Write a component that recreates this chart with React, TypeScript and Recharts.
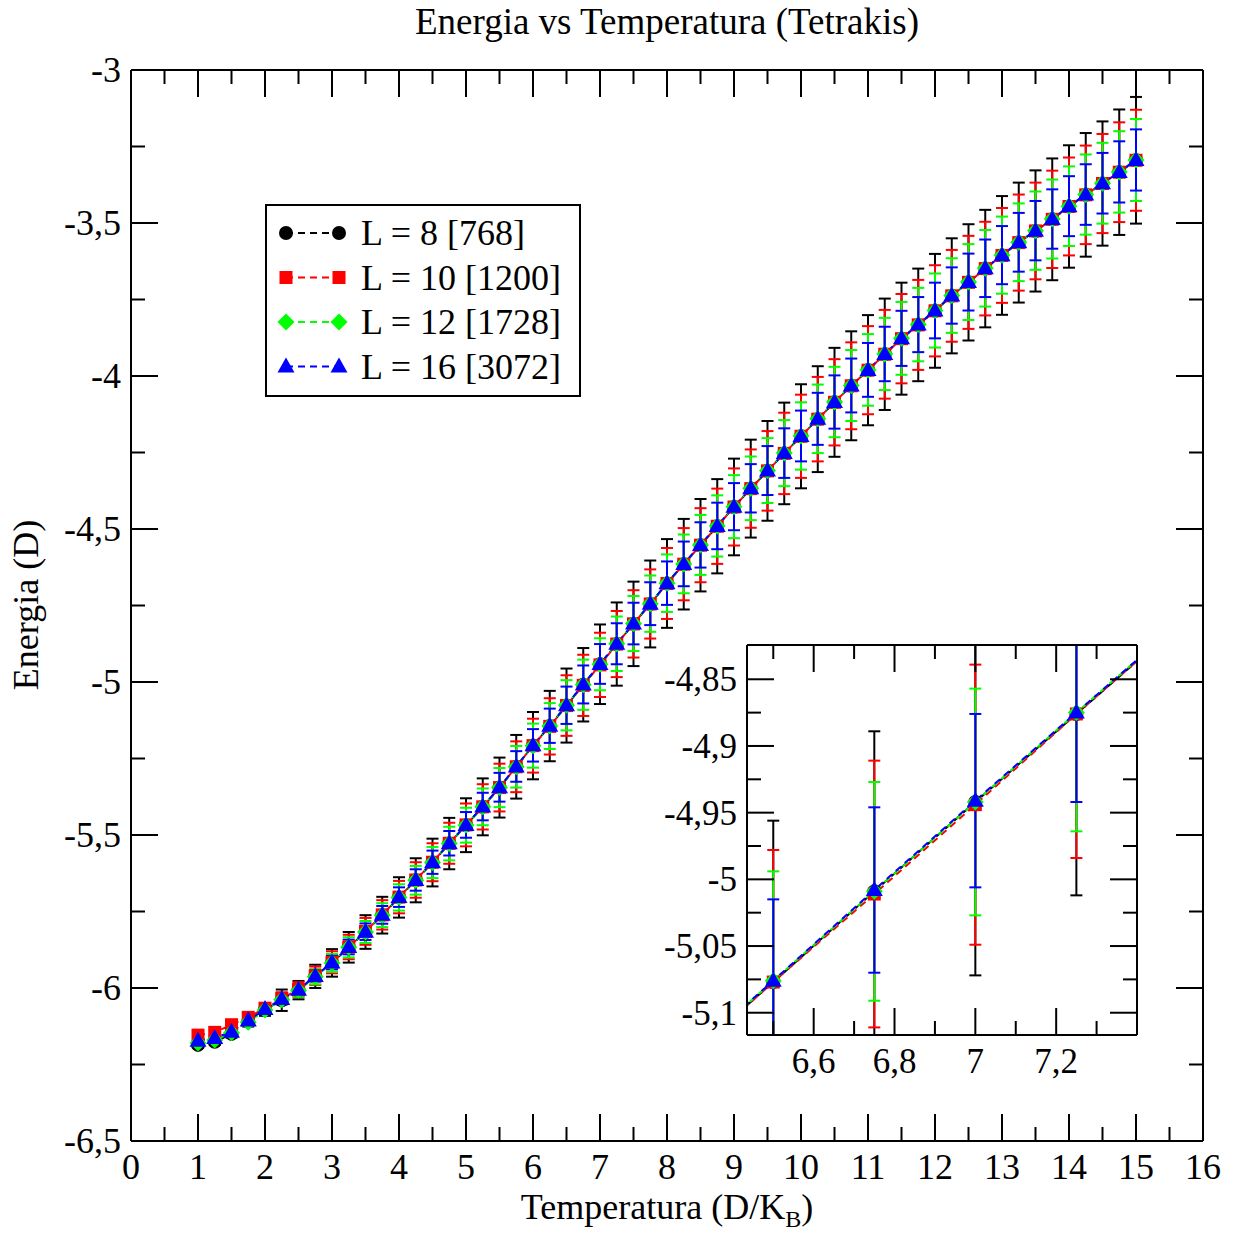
import React from 'react';
import { LineChart, Line, XAxis, YAxis, ErrorBar, Legend, CartesianGrid } from 'recharts';

// temperatures (D/K_B)
const temps = [
  1, 1.25, 1.5, 1.75, 2, 2.25, 2.5, 2.75,
  3, 3.25, 3.5, 3.75, 4, 4.25, 4.5, 4.75,
  5, 5.25, 5.5, 5.75, 6, 6.25, 6.5, 6.75,
  7, 7.25, 7.5, 7.75, 8, 8.25, 8.5, 8.75,
  9, 9.25, 9.5, 9.75, 10, 10.25, 10.5, 10.75,
  11, 11.25, 11.5, 11.75, 12, 12.25, 12.5, 12.75,
  13, 13.25, 13.5, 13.75, 14, 14.25, 14.5, 14.75,
  15,
];

// energy per series
const energyL8 = [
  -6.186, -6.176, -6.150, -6.110, -6.071, -6.040, -6.007, -5.962,
  -5.918, -5.867, -5.817, -5.762, -5.704, -5.648, -5.590, -5.528,
  -5.468, -5.408, -5.345, -5.277, -5.208, -5.144, -5.077, -5.009,
  -4.942, -4.876, -4.810, -4.745, -4.678, -4.615, -4.553, -4.491,
  -4.428, -4.368, -4.310, -4.253, -4.197, -4.141, -4.086, -4.032,
  -3.981, -3.929, -3.878, -3.833, -3.787, -3.738, -3.694, -3.649,
  -3.606, -3.564, -3.526, -3.488, -3.446, -3.408, -3.371, -3.334,
  -3.295,
];
const energyL10 = [
  -6.154, -6.145, -6.120, -6.096, -6.066, -6.034, -6.005, -5.960,
  -5.916, -5.866, -5.815, -5.761, -5.703, -5.647, -5.589, -5.527,
  -5.467, -5.408, -5.345, -5.277, -5.208, -5.145, -5.077, -5.011,
  -4.944, -4.876, -4.810, -4.745, -4.678, -4.615, -4.553, -4.491,
  -4.428, -4.368, -4.310, -4.253, -4.197, -4.141, -4.086, -4.032,
  -3.981, -3.929, -3.878, -3.833, -3.787, -3.738, -3.694, -3.649,
  -3.606, -3.564, -3.526, -3.488, -3.446, -3.408, -3.371, -3.334,
  -3.295,
];
const energyL12 = [
  -6.180, -6.170, -6.146, -6.112, -6.072, -6.038, -6.008, -5.963,
  -5.918, -5.867, -5.817, -5.762, -5.704, -5.648, -5.590, -5.528,
  -5.468, -5.408, -5.345, -5.277, -5.208, -5.144, -5.076, -5.009,
  -4.942, -4.875, -4.809, -4.744, -4.677, -4.614, -4.552, -4.490,
  -4.427, -4.367, -4.309, -4.252, -4.196, -4.140, -4.085, -4.031,
  -3.980, -3.928, -3.877, -3.832, -3.786, -3.737, -3.693, -3.648,
  -3.605, -3.563, -3.525, -3.487, -3.445, -3.407, -3.370, -3.333,
  -3.294,
];
const energyL16 = [
  -6.172, -6.163, -6.143, -6.106, -6.069, -6.036, -6.006, -5.961,
  -5.917, -5.866, -5.816, -5.761, -5.703, -5.647, -5.589, -5.527,
  -5.467, -5.407, -5.344, -5.276, -5.207, -5.143, -5.076, -5.008,
  -4.941, -4.875, -4.809, -4.744, -4.677, -4.614, -4.552, -4.490,
  -4.427, -4.367, -4.309, -4.252, -4.196, -4.140, -4.085, -4.031,
  -3.980, -3.928, -3.877, -3.832, -3.786, -3.737, -3.693, -3.648,
  -3.605, -3.563, -3.525, -3.487, -3.445, -3.407, -3.370, -3.333,
  -3.294,
];

// error bars (symmetric)
const errL8 = [
  0.008, 0.010, 0.012, 0.016, 0.020, 0.035, 0.030, 0.038,
  0.045, 0.050, 0.055, 0.060, 0.066, 0.072, 0.078, 0.084,
  0.088, 0.093, 0.098, 0.104, 0.110, 0.115, 0.121, 0.120,
  0.130, 0.136, 0.138, 0.142, 0.145, 0.148, 0.151, 0.154,
  0.158, 0.160, 0.163, 0.166, 0.170, 0.173, 0.178, 0.178,
  0.180, 0.182, 0.183, 0.184, 0.186, 0.188, 0.190, 0.192,
  0.194, 0.196, 0.198, 0.199, 0.200, 0.202, 0.203, 0.205,
  0.207,
];
const errL10 = [
  0.007, 0.008, 0.010, 0.013, 0.016, 0.020, 0.024, 0.030,
  0.036, 0.040, 0.044, 0.048, 0.053, 0.058, 0.062, 0.067,
  0.070, 0.074, 0.078, 0.083, 0.088, 0.092, 0.099, 0.100,
  0.105, 0.108, 0.110, 0.113, 0.116, 0.118, 0.121, 0.123,
  0.126, 0.128, 0.130, 0.133, 0.136, 0.138, 0.141, 0.142,
  0.144, 0.145, 0.146, 0.147, 0.149, 0.150, 0.152, 0.153,
  0.155, 0.157, 0.158, 0.159, 0.160, 0.161, 0.162, 0.163,
  0.165,
];
const errL12 = [
  0.006, 0.007, 0.008, 0.010, 0.013, 0.016, 0.020, 0.025,
  0.029, 0.033, 0.036, 0.039, 0.043, 0.047, 0.051, 0.055,
  0.057, 0.060, 0.064, 0.068, 0.072, 0.075, 0.082, 0.082,
  0.085, 0.089, 0.090, 0.092, 0.094, 0.096, 0.098, 0.100,
  0.103, 0.104, 0.106, 0.108, 0.110, 0.112, 0.115, 0.116,
  0.117, 0.118, 0.119, 0.120, 0.121, 0.122, 0.124, 0.125,
  0.126, 0.127, 0.128, 0.129, 0.130, 0.131, 0.132, 0.133,
  0.134,
];
const errL16 = [
  0.004, 0.005, 0.006, 0.008, 0.010, 0.012, 0.015, 0.018,
  0.022, 0.024, 0.027, 0.029, 0.032, 0.035, 0.038, 0.040,
  0.042, 0.045, 0.047, 0.050, 0.053, 0.056, 0.061, 0.062,
  0.065, 0.067, 0.068, 0.070, 0.071, 0.073, 0.074, 0.076,
  0.077, 0.079, 0.080, 0.081, 0.083, 0.085, 0.087, 0.088,
  0.088, 0.089, 0.090, 0.090, 0.091, 0.092, 0.093, 0.094,
  0.095, 0.096, 0.097, 0.097, 0.098, 0.099, 0.099, 0.100,
  0.100,
];

// ticks
const mainXTicks = [0, 0.5, 1, 1.5, 2, 2.5, 3, 3.5, 4, 4.5, 5, 5.5, 6, 6.5, 7, 7.5, 8, 8.5, 9, 9.5, 10, 10.5, 11, 11.5, 12, 12.5, 13, 13.5, 14, 14.5, 15, 15.5, 16];
const mainXLabels = [0, 1, 2, 3, 4, 5, 6, 7, 8, 9, 10, 11, 12, 13, 14, 15, 16];
const mainYTicks = [-6.5, -6.25, -6, -5.75, -5.5, -5.25, -5, -4.75, -4.5, -4.25, -4, -3.75, -3.5, -3.25, -3];
const mainYLabels = [-6.5, -6, -5.5, -5, -4.5, -4, -3.5, -3];
const insetXTicks = [6.5, 6.6, 6.7, 6.8, 6.9, 7, 7.1, 7.2, 7.3];
const insetXLabels = [6.6, 6.8, 7, 7.2];
const insetYTicks = [-5.1, -5.075, -5.05, -5.025, -5, -4.975, -4.95, -4.925, -4.9, -4.875, -4.85];
const insetYLabels = [-5.1, -5.05, -5, -4.95, -4.9, -4.85];

const series = [
  { key: 'L8', name: 'L = 8 [768]', color: '#000000', shape: 'circle', energy: energyL8, err: errL8 },
  { key: 'L10', name: 'L = 10 [1200]', color: '#ff0000', shape: 'square', energy: energyL10, err: errL10 },
  { key: 'L12', name: 'L = 12 [1728]', color: '#00ff00', shape: 'diamond', energy: energyL12, err: errL12 },
  { key: 'L16', name: 'L = 16 [3072]', color: '#0000ff', shape: 'triangle', energy: energyL16, err: errL16 },
];

const rows = temps.map((t, i) => {
  const row: Record<string, number> = { t };
  series.forEach((s) => {
    row[s.key] = s.energy[i];
    row[`${s.key}err`] = s.err[i];
  });
  return row;
});

const FONT = '"Liberation Serif", "Times New Roman", serif';

function Marker({ shape, cx, cy, color }: { shape: string; cx: number; cy: number; color: string }) {
  if (cx == null || cy == null) return null;
  if (shape === 'circle') return <circle cx={cx} cy={cy} r={7} fill={color} />;
  if (shape === 'square') return <rect x={cx - 6.5} y={cy - 6.5} width={13} height={13} fill={color} />;
  if (shape === 'diamond')
    return <polygon points={`${cx},${cy - 8.5} ${cx + 8.5},${cy} ${cx},${cy + 8.5} ${cx - 8.5},${cy}`} fill={color} />;
  return <polygon points={`${cx},${cy - 9} ${cx + 8.5},${cy + 6} ${cx - 8.5},${cy + 6}`} fill={color} />;
}

const fmt = (v: number) => String(Math.round(v * 1000) / 1000).replace('.', ',');
const has = (arr: number[], v: number) => arr.some((a) => Math.abs(a - v) < 1e-6);

// inward ticks, label only on the labelled ones
function makeTick(side: 'bottom' | 'top' | 'left' | 'right', labels: number[], showText: boolean, fontSize: number) {
  return (props: any) => {
    const { x, y, payload } = props;
    const v = payload.value as number;
    const major = has(labels, v);
    const len = major ? 27 : 14;
    let line;
    if (side === 'bottom') line = <line x1={x} x2={x} y1={y} y2={y - len} />;
    else if (side === 'top') line = <line x1={x} x2={x} y1={y} y2={y + len} />;
    else if (side === 'left') line = <line x1={x} x2={x + len} y1={y} y2={y} />;
    else line = <line x1={x} x2={x - len} y1={y} y2={y} />;
    return (
      <g>
        <g stroke="#000" strokeWidth={2}>{line}</g>
        {showText && major && side === 'bottom' && (
          <text x={x} y={y + 38} textAnchor="middle" fontFamily={FONT} fontSize={fontSize} fill="#000">
            {fmt(v)}
          </text>
        )}
        {showText && major && side === 'left' && (
          <text x={x - 10} y={y + 12} textAnchor="end" fontFamily={FONT} fontSize={fontSize} fill="#000">
            {fmt(v)}
          </text>
        )}
      </g>
    );
  };
}

function LegendBox() {
  return (
    <svg width={316} height={193} style={{ display: 'block' }}>
      <rect x={1} y={1} width={314} height={191} fill="#fff" stroke="#000" strokeWidth={2} />
      {series.map((s, i) => {
        const cy = 29 + i * 44.5;
        return (
          <g key={s.key}>
            <line x1={21} x2={74} y1={cy} y2={cy} stroke={s.color} strokeWidth={2} strokeDasharray="7 5" />
            <Marker shape={s.shape} cx={21} cy={cy} color={s.color} />
            <Marker shape={s.shape} cx={74} cy={cy} color={s.color} />
            <text x={96} y={cy + 12} fontFamily={FONT} fontSize={36} fill="#000">
              {s.name}
            </text>
          </g>
        );
      })}
    </svg>
  );
}

function renderSeries() {
  return series.map((s) => (
    <Line
      key={s.key}
      dataKey={s.key}
      name={s.name}
      type="linear"
      stroke={s.color}
      strokeWidth={2}
      strokeDasharray="7 5"
      dot={(p: any) => <Marker key={`${s.key}-${p.index}`} shape={s.shape} cx={p.cx} cy={p.cy} color={s.color} />}
      activeDot={false}
      isAnimationActive={false}
    >
      <ErrorBar dataKey={`${s.key}err`} direction="y" width={6} stroke={s.color} strokeWidth={2} />
    </Line>
  ));
}

// invisible series so the mirrored top/right axes are drawn
function frameSeries() {
  return (
    <Line
      xAxisId="top"
      yAxisId="right"
      dataKey="L16"
      stroke="none"
      dot={false}
      activeDot={false}
      legendType="none"
      isAnimationActive={false}
    />
  );
}

const axisLine = { stroke: '#000', strokeWidth: 2 };

export default function App() {
  return (
    <div style={{ position: 'absolute', left: 0, top: 0, width: 1234, height: 1234, background: '#fff' }}>
      <style>{`.inset-chart .recharts-errorBars { clip-path: url(#insetPlotClip); }`}</style>
      <svg width={0} height={0} style={{ position: 'absolute' }}>
        <defs>
          <clipPath id="insetPlotClip" clipPathUnits="userSpaceOnUse">
            <rect x={107} y={15} width={390} height={390} />
          </clipPath>
        </defs>
      </svg>
      <div style={{ position: 'absolute', left: 0, top: 0 }}>
        <LineChart width={1234} height={1234} data={rows} margin={{ top: 69, right: 30, left: 51, bottom: 43 }}>
          <XAxis
            dataKey="t"
            type="number"
            domain={[0, 16]}
            ticks={mainXTicks}
            interval={0}
            height={50}
            tickSize={0}
            tickMargin={0}
            tickLine={false}
            axisLine={axisLine}
            tick={makeTick('bottom', mainXLabels, true, 36)}
          />
          <XAxis
            xAxisId="top"
            dataKey="t"
            orientation="top"
            type="number"
            domain={[0, 16]}
            ticks={mainXTicks}
            interval={0}
            height={1}
            tickSize={0}
            tickMargin={0}
            tickLine={false}
            axisLine={axisLine}
            tick={makeTick('top', mainXLabels, false, 36)}
          />
          <YAxis
            type="number"
            domain={[-6.5, -3]}
            ticks={mainYTicks}
            interval={0}
            width={80}
            tickSize={0}
            tickMargin={0}
            tickLine={false}
            axisLine={axisLine}
            tick={makeTick('left', mainYLabels, true, 36)}
          />
          <YAxis
            yAxisId="right"
            orientation="right"
            type="number"
            domain={[-6.5, -3]}
            ticks={mainYTicks}
            interval={0}
            width={1}
            tickSize={0}
            tickMargin={0}
            tickLine={false}
            axisLine={axisLine}
            tick={makeTick('right', mainYLabels, false, 36)}
          />
          <Legend
            layout="vertical"
            align="center"
            verticalAlign="middle"
            wrapperStyle={{ left: 265, top: 204, width: 316, height: 193 }}
            content={() => <LegendBox />}
          />
          {frameSeries()}
          {renderSeries()}
        </LineChart>
      </div>

      {/* inset zoom around T = 7 */}
      <div className="inset-chart" style={{ position: 'absolute', left: 640, top: 630 }}>
        <LineChart width={520} height={450} data={rows} margin={{ top: 14, right: 22, left: 7, bottom: 5 }}>
          <CartesianGrid horizontal={false} vertical={false} fill="#fff" />
          <XAxis
            dataKey="t"
            type="number"
            domain={[6.435, 7.4]}
            allowDataOverflow
            ticks={insetXTicks}
            interval={0}
            height={40}
            tickSize={0}
            tickMargin={0}
            tickLine={false}
            axisLine={axisLine}
            tick={makeTick('bottom', insetXLabels, true, 35)}
          />
          <XAxis
            xAxisId="top"
            dataKey="t"
            orientation="top"
            type="number"
            domain={[6.435, 7.4]}
            allowDataOverflow
            ticks={insetXTicks}
            interval={0}
            height={1}
            tickSize={0}
            tickMargin={0}
            tickLine={false}
            axisLine={axisLine}
            tick={makeTick('top', insetXLabels, false, 35)}
          />
          <YAxis
            type="number"
            domain={[-5.1167, -4.8243]}
            allowDataOverflow
            ticks={insetYTicks}
            interval={0}
            width={100}
            tickSize={0}
            tickMargin={0}
            tickLine={false}
            axisLine={axisLine}
            tick={makeTick('left', insetYLabels, true, 35)}
          />
          <YAxis
            yAxisId="right"
            orientation="right"
            type="number"
            domain={[-5.1167, -4.8243]}
            allowDataOverflow
            ticks={insetYTicks}
            interval={0}
            width={1}
            tickSize={0}
            tickMargin={0}
            tickLine={false}
            axisLine={axisLine}
            tick={makeTick('right', insetYLabels, false, 35)}
          />
          {frameSeries()}
          {renderSeries()}
        </LineChart>
      </div>

      <svg width={1234} height={1234} style={{ position: 'absolute', left: 0, top: 0, pointerEvents: 'none' }}>
        <text x={667} y={34} textAnchor="middle" fontFamily={FONT} fontSize={37} fill="#000">
          Energia vs Temperatura (Tetrakis)
        </text>
        <text x={667} y={1219} textAnchor="middle" fontFamily={FONT} fontSize={36} fill="#000">
          Temperatura (D/K
          <tspan fontSize={24} dy={8}>B</tspan>
          <tspan dy={-8}>)</tspan>
        </text>
        <text
          x={38}
          y={605}
          transform="rotate(-90 38 605)"
          textAnchor="middle"
          fontFamily={FONT}
          fontSize={36}
          fill="#000"
        >
          Energia (D)
        </text>
      </svg>
    </div>
  );
}
